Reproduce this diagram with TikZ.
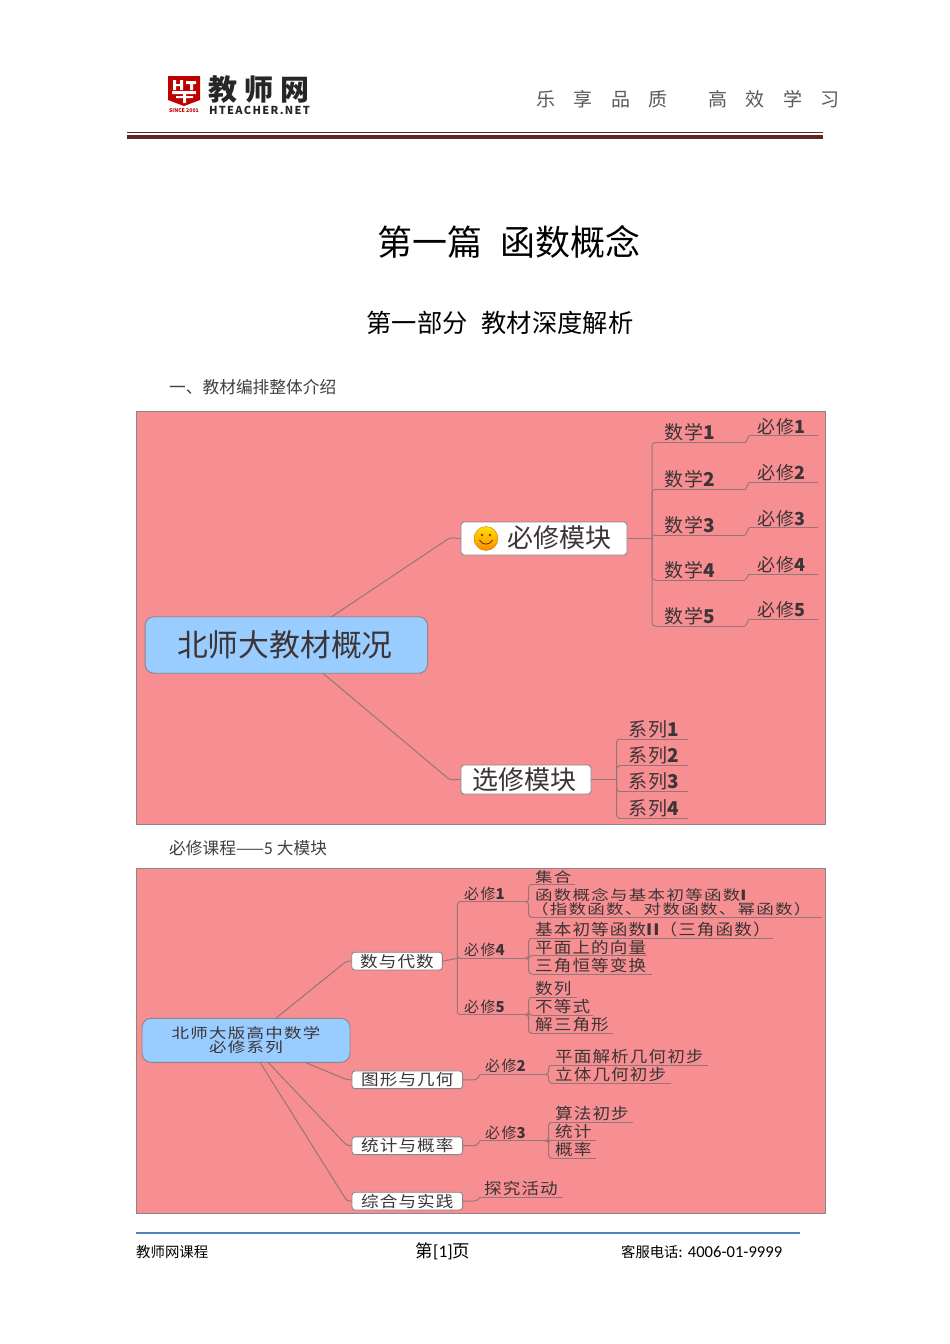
\documentclass[tikz,border=0pt]{standalone}
\usepackage{fontspec}
\setmainfont{Noto Sans CJK SC}
\newfontfamily\cali{Carlito}
\newfontfamily\mmA[LetterSpace=9]{Noto Sans CJK SC}
\newfontfamily\mmB[FakeStretch=1.12,LetterSpace=7]{Noto Sans CJK SC}
\newfontfamily\mmC[LetterSpace=12]{Noto Sans CJK SC}
\newfontfamily\mmD[FakeStretch=1.25,LetterSpace=9]{Noto Sans CJK SC}
\definecolor{mmbg}{HTML}{F78F92}
\definecolor{mmframe}{HTML}{8C8486}
\definecolor{mmline}{HTML}{93767A}
\definecolor{mmroot}{HTML}{99CCFF}
\definecolor{mmtext}{HTML}{3C3436}
\definecolor{bar}{HTML}{632523}
\definecolor{rule}{HTML}{4F81BD}
\tikzset{
  panel/.style={draw=mmframe,fill=mmbg,line width=0.8pt},
  conn/.style={draw=mmline,line width=1pt,rounded corners=3pt},
  pagetext/.style={inner sep=0pt,text=#1},
  pagetext/.default=black,
  rootbox/.style={draw=mmframe,fill=mmroot,rounded corners=9pt,line width=0.9pt,inner sep=0pt,text=mmtext,align=center},
  subbox/.style={draw=mmframe,fill=white,rounded corners=3pt,line width=0.9pt,inner sep=0pt,text=mmtext},
  leaf/.style={inner xsep=0pt,inner ysep=1pt,anchor=south west,align=left,text=mmtext},
}
\newcommand{\curmm}{\mmA}
% name, x0, x1, y, pad, size, text
\newcommand{\mmleaf}[7]{%
  \node[leaf,text width=#3pt-#2pt,font=\curmm\fontsize{#6}{#6}\selectfont] (#1) at (#2,#4) {\hspace*{#5pt}#7};
  \draw[conn] (#1.south west) -- (#1.south east);
}
\begin{document}
\begin{tikzpicture}[x=1pt,y=-1pt]
\useasboundingbox (0,0) rectangle (950,1344);
\fill[white] (0,0) rectangle (950,1344);

% ---------- header ----------
\fill[red!75!black] (168,76) -- (200,76) -- (200,100) -- (184,106) -- (168,100) -- cycle;
\fill[white] (173,80) rectangle (176,90) (180,80) rectangle (183,90) (173,84) rectangle (183,86)
  (186,81) rectangle (196,84) (190,81) rectangle (193,90)
  (172,91) rectangle (196,94) (183,94) rectangle (186,103) (176,96) rectangle (193,98);
\node[pagetext=red!75!black,font=\bfseries\fontsize{5.2}{5.2}\selectfont] (since) at (184,111) {SINCE 2001};
\node[pagetext=black!85,font=\bfseries\fontsize{29}{29}\selectfont] (logocn) at (259,89.5) {教\hspace{7pt}师\hspace{7pt}网};
\node[pagetext=black!85,font=\mmC\bfseries\fontsize{11}{11}\selectfont] (logoen) at (259.5,110) {HTEACHER.NET};
\node[pagetext=black!65,font=\fontsize{19}{19}\selectfont] (motto1) at (602,99) {乐\hspace{18.5pt}享\hspace{18.5pt}品\hspace{18.5pt}质};
\node[pagetext=black!65,font=\fontsize{19}{19}\selectfont] (motto2) at (774,99) {高\hspace{18.5pt}效\hspace{18.5pt}学\hspace{18.5pt}习};
\fill[bar] (127,132) rectangle (823,133);
\fill[bar] (127,134.5) rectangle (823,138.5);

% ---------- headings ----------
\node[pagetext,font=\fontsize{35}{35}\selectfont] (title) at (509,242) {第一篇\hspace{18pt}函数概念};
\node[pagetext,font=\fontsize{25.3}{25.3}\selectfont] (subtitle) at (500,322.5) {第一部分\hspace{14pt}教材深度解析};
\node[pagetext=black!75,anchor=west,font=\fontsize{16.7}{16.7}\selectfont] (sec1) at (169,387) {一、教材编排整体介绍};
\node[pagetext=black!75,anchor=west,font=\fontsize{16.7}{16.7}\selectfont] (sec2) at (169,848) {必修课程——{\cali\fontsize{18}{18}\selectfont 5} 大模块};

% ---------- first mind map ----------
\draw[panel] (136,411) rectangle (825,824);
\node[rootbox,minimum width=282.5pt,minimum height=56.5pt,font=\fontsize{30.8}{30.8}\selectfont] (r1) at (286.3,645) {\hspace*{-3pt}北师大教材概况};
\node[subbox,minimum width=166pt,minimum height=33pt] (bx) at (544,538.5) {};
\node[inner sep=0pt,anchor=west,text=mmtext,font=\fontsize{26}{26}\selectfont] (bxt) at (507,538) {必修模块};
\node[circle,inner sep=0pt,minimum size=24pt,top color=yellow!75!orange,bottom color=orange!90!yellow,draw=orange!80!black,line width=0.3pt] (smile) at (486,538.5) {};
\fill[black!55!orange] (482,535) circle (1.4pt) (490,535) circle (1.4pt);
\draw[black!55!orange,line width=0.9pt] (479.5,540) .. controls (482,545.5) and (490,545.5) .. (492.5,540);
\node[subbox,minimum width=130pt,minimum height=29pt,font=\fontsize{26}{26}\selectfont] (xx) at (526,779.5) {\hspace*{-3pt}选修模块};
\draw[conn] (331.7,616.7) coordinate (r1a) -- (450,537.7) -- (bx.west);
\draw[conn] (323,673.3) coordinate (r1b) -- (450,780) -- (xx.west);

\renewcommand{\curmm}{\mmA}
\mmleaf{m1}{656}{745}{442.7}{8}{19}{数学{\bfseries 1}}
\mmleaf{m2}{656}{745}{489.7}{8}{19}{数学{\bfseries 2}}
\mmleaf{m3}{656}{745}{535}{8}{19}{数学{\bfseries 3}}
\mmleaf{m4}{656}{745}{580}{8}{19}{数学{\bfseries 4}}
\mmleaf{m5}{656}{745}{626}{8}{19}{数学{\bfseries 5}}
\mmleaf{b1}{749}{818}{435.7}{8}{18}{必修{\bfseries 1}}
\mmleaf{b2}{749}{818}{482.6}{8}{18}{必修{\bfseries 2}}
\mmleaf{b3}{749}{818}{527.7}{8}{18}{必修{\bfseries 3}}
\mmleaf{b4}{749}{818}{574}{8}{18}{必修{\bfseries 4}}
\mmleaf{b5}{749}{818}{619.3}{8}{18}{必修{\bfseries 5}}
\draw[conn] (bx.east) -- (652,538.5);
\foreach \c/\l in {m1/b1,m2/b2,m3/b3,m4/b4,m5/b5}{
  \draw[conn] (652,538.5) |- (\c.south west);
  \draw[conn] (\c.south east) -- (\l.south west);
}
\mmleaf{s1}{621}{688}{739}{7}{19}{系列{\bfseries 1}}
\mmleaf{s2}{621}{688}{765.7}{7}{19}{系列{\bfseries 2}}
\mmleaf{s3}{621}{688}{791.7}{7}{19}{系列{\bfseries 3}}
\mmleaf{s4}{621}{688}{818.3}{7}{19}{系列{\bfseries 4}}
\draw[conn] (xx.east) -- (616.7,779.5);
\foreach \c in {s1,s2,s3,s4}{\draw[conn] (616.7,779.5) |- (\c.south west);}

% ---------- second mind map ----------
\draw[panel] (136,868) rectangle (825,1213);
\node[rootbox,minimum width=208pt,minimum height=44pt,font=\mmD\fontsize{14}{14}\selectfont] (r2) at (246,1040.3) {北师大版高中数学\\必修系列};
\node[subbox,minimum width=90.6pt,minimum height=17.7pt,font=\mmB\fontsize{15.7}{15.7}\selectfont] (k1) at (397,961.1) {\raisebox{0.7pt}{数与代数}};
\node[subbox,minimum width=110.6pt,minimum height=17.7pt,font=\mmB\fontsize{15.7}{15.7}\selectfont] (k2) at (407.3,1079.8) {\raisebox{0.7pt}{图形与几何}};
\node[subbox,minimum width=110.6pt,minimum height=17.7pt,font=\mmB\fontsize{15.7}{15.7}\selectfont] (k3) at (407.3,1145.7) {\raisebox{0.7pt}{统计与概率}};
\node[subbox,minimum width=110.6pt,minimum height=17.7pt,font=\mmB\fontsize{15.7}{15.7}\selectfont] (k4) at (407.3,1201.1) {\raisebox{0.7pt}{综合与实践}};
\draw[conn] (275.7,1018.3) coordinate (r2a) -- (346.7,961) -- (k1.west);
\draw[conn] (305,1062.3) coordinate (r2b) -- (347,1079.8) -- (k2.west);
\draw[conn] (268,1062.3) coordinate (r2c) -- (347,1145.7) -- (k3.west);
\draw[conn] (260,1062.3) coordinate (r2d) -- (347,1201.1) -- (k4.west);

\mmleaf{p1}{461}{525}{901.7}{3}{15}{必修{\bfseries 1}}
\mmleaf{p4}{461}{525}{958.3}{3}{15}{必修{\bfseries 4}}
\mmleaf{p5}{461}{525}{1014.6}{3}{15}{必修{\bfseries 5}}
\draw[conn] (k1.east) -- (457.3,958.3);
\foreach \c in {p1,p4,p5}{\draw[conn] (457.3,958.3) |- (\c.south west);}

\renewcommand{\curmm}{\mmD}
\mmleaf{a1}{532}{575}{884.3}{3}{14}{集合}
\mmleaf{a2}{532}{821.7}{917.3}{3}{14}{函数概念与基本初等函数{\bfseries I}\\\hspace*{-1pt}（指数函数、对数函数、幂函数）}
\renewcommand{\curmm}{\mmB}
\mmleaf{a3}{532}{773}{938.3}{3}{15.7}{基本初等函数{\bfseries II}（三角函数）}
\mmleaf{a4}{532}{646.7}{955.7}{3}{15.7}{平面上的向量}
\mmleaf{a5}{532}{651.7}{974}{3}{15.7}{三角恒等变换}
\mmleaf{a6}{532}{576.7}{997.3}{3}{15.7}{数列}
\mmleaf{a7}{532}{593}{1015}{3}{15.7}{不等式}
\mmleaf{a8}{532}{613}{1033.3}{3}{15.7}{解三角形}
\foreach \p/\c in {p1/a1,p1/a2,p4/a3,p4/a4,p4/a5,p5/a6,p5/a7,p5/a8}{
  \draw[conn] (\p.south east) -- ++(3.3,0) |- (\c.south west);
}

\renewcommand{\curmm}{\mmA}
\mmleaf{q2}{480}{546.7}{1074.3}{5}{15}{必修{\bfseries 2}}
\mmleaf{q3}{480}{546.7}{1140.7}{5}{15}{必修{\bfseries 3}}
\renewcommand{\curmm}{\mmB}
\mmleaf{q6}{480}{562.7}{1197.3}{4}{15.7}{探究活动}
\draw[conn] (k2.east) -- (476.7,1079.8) -- (q2.south west);
\draw[conn] (k3.east) -- (476.7,1145.7) -- (q3.south west);
\draw[conn] (k4.east) -- (476.7,1201.1) -- (q6.south west);

\mmleaf{c1}{552}{708}{1065}{3}{15.7}{平面解析几何初步}
\mmleaf{c2}{552}{671}{1083.3}{3}{15.7}{立体几何初步}
\mmleaf{c3}{552}{632.7}{1122.3}{3}{15.7}{算法初步}
\mmleaf{c4}{552}{596}{1140}{3}{15.7}{统计}
\mmleaf{c5}{552}{596}{1158.3}{3}{15.7}{概率}
\foreach \p/\c in {q2/c1,q2/c2,q3/c3,q3/c4,q3/c5}{
  \draw[conn] (\p.south east) -- ++(1.6,0) |- (\c.south west);
}

% ---------- footer ----------
\draw[rule,line width=1.6pt] (136,1233) -- (800,1233);
\node[pagetext,anchor=west,font=\fontsize{14.4}{14.4}\selectfont] (f1) at (136,1252) {教师网课程};
\node[pagetext,font=\fontsize{17.5}{17.5}\selectfont] (f2) at (443,1251) {第{\cali [1]}页};
\node[pagetext,anchor=west,font=\fontsize{14.3}{14.3}\selectfont] (f3) at (621,1252) {客服电话{\cali\fontsize{16.6}{16.6}\selectfont : 4006-01-9999}};
\end{tikzpicture}
\end{document}
